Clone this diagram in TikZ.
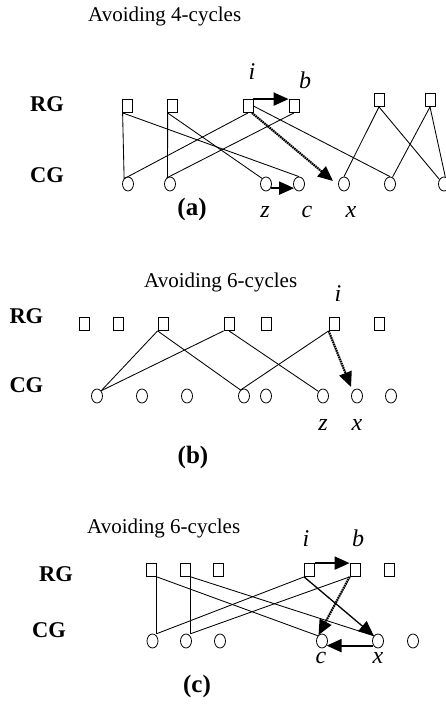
\documentclass[tikz,border=0pt]{standalone}
\usepackage{fontspec}
\setmainfont{Liberation Serif}
\usetikzlibrary{arrows.meta,shapes.geometric}
\begin{document}
\begin{tikzpicture}[x=1pt,y=-1pt,
  sq/.style={draw, line width=0.8pt, minimum width=10pt, minimum height=13pt, inner sep=0pt},
  cir/.style={draw, ellipse, line width=0.8pt, minimum width=11pt, minimum height=14pt, inner sep=0pt},
  edg/.style={line width=0.85pt},
  bigarr/.style={line width=2pt, -{Triangle[length=15pt,width=13pt]}},
  dotarr/.style={line width=2.2pt, dash pattern=on 1.6pt off 0.7pt, -{Triangle[length=15pt,width=13pt]}},
  midarr/.style={line width=1.3pt, -{Triangle[length=15pt,width=13pt]}},
  titletxt/.style={font=\fontsize{21}{24}\selectfont, inner sep=0pt, anchor=base west},
  grptxt/.style={font=\fontsize{22.5}{26}\selectfont\bfseries, inner sep=0pt, anchor=base west},
  vartxt/.style={font=\fontsize{24}{28}\selectfont\itshape, inner sep=0pt, anchor=base},
  captxt/.style={font=\fontsize{25}{29}\selectfont\bfseries, inner sep=0pt, anchor=base}]
\useasboundingbox (0,0) rectangle (446,706);
\fill[white] (0,0) rectangle (446,706);

% ---------------- panel (a) ----------------
\node[titletxt] (ta) at (88,21.7) {Avoiding 4-cycles};
\node[grptxt] (rga) at (30,111.7) {RG};
\node[grptxt] (cga) at (30,182.7) {CG};
\node[sq] (a1) at (127,106) {};
\node[sq] (a2) at (172,106) {};
\node[sq] (a3) at (248,106) {};
\node[sq] (a4) at (294,106) {};
\node[sq] (a5) at (379,100) {};
\node[sq] (a6) at (430,100) {};
\node[cir] (ac1) at (128,184) {};
\node[cir] (ac2) at (170,184) {};
\node[cir] (ac3) at (266,184) {};
\node[cir] (ac4) at (299,184) {};
\node[cir] (ac5) at (344,184) {};
\node[cir] (ac6) at (390,184) {};
\node[cir] (ac7) at (444,184) {};
\coordinate (ad) at (333,181);
\draw[edg] ([xshift=1pt]a1.south west) -- (ac1.125);
\draw[edg] ([xshift=1pt]a1.south west) -- (ac4.north);
\draw[edg] ([xshift=1pt]a2.south west) -- (ac2.110);
\draw[edg] ([xshift=1pt]a2.south west) -- (ac3.125);
\draw[edg] (a3.south) -- (ac1.130);
\draw[edg] (a4.south) -- (ac2.120);
\draw[edg] (a3.east) -- (ac6.north);
\draw[edg] (a5.south) -- (ac5.north);
\draw[edg] (a5.south) -- (ac7.135);
\draw[edg] (a6.south) -- (ac6.70);
\draw[edg] (a6.south) -- (ac7.80);
\draw[dotarr] (a3.-60) -- (ad);
\draw[bigarr] (a3.north east) -- (a4.north west);
\draw[bigarr] (ac3.-40) -- (ac4.-140);
\node[vartxt] (ia) at (252,80) {i};
\node[vartxt] (ba) at (305,89) {b};
\node[captxt] (capa) at (192,215) {(a)};
\node[vartxt] (za) at (265,217) {z};
\node[vartxt] (ca) at (307,217) {c};
\node[vartxt] (xa) at (351,217) {x};

% ---------------- panel (b) ----------------
\node[titletxt] (tb) at (144,287.3) {Avoiding 6-cycles};
\node[vartxt] (ib) at (338,301.7) {i};
\node[grptxt] (rgb) at (9.3,323.3) {RG};
\node[grptxt] (cgb) at (9.3,392.7) {CG};
\foreach \n/\x in {1/84,2/118,3/163,4/229,5/266,6/334,7/379}
  \node[sq] (b\n) at (\x,324) {};
\foreach \n/\x in {1/97,2/142,3/187,4/244,5/266,6/323,7/357,8/391}
  \node[cir] (bc\n) at (\x,396) {};
\coordinate (bd) at (351,387);
\draw[edg] (b3.south west) -- (bc1.north east);
\draw[edg] (b3.south west) -- (bc4.120);
\draw[edg] (b4.south west) -- (bc1.north east);
\draw[edg] (b4.south) -- (bc6.135);
\draw[edg] (b6.south west) -- (bc4.120);
\draw[dotarr] (b6.south west) -- (bd);
\node[vartxt] (zb) at (323,430) {z};
\node[vartxt] (xb) at (357,430) {x};
\node[captxt] (capb) at (193,463) {(b)};

% ---------------- panel (c) ----------------
\node[titletxt] (tc) at (87,533.3) {Avoiding 6-cycles};
\node[vartxt] (ic) at (306,546.7) {i};
\node[vartxt] (bcl) at (358,546.7) {b};
\node[grptxt] (rgc) at (39,581) {RG};
\node[grptxt] (cgc) at (32,637) {CG};
\node[sq] (cs1) at (151.5,570) {};
\node[sq] (cs2) at (185.5,570) {};
\node[sq] (cs3) at (218,570) {};
\node[sq] (ci) at (309.5,570) {};
\node[sq] (cb) at (355,570) {};
\node[sq] (cs6) at (389,570) {};
\node[cir] (cc1) at (152.5,641) {};
\node[cir] (cc2) at (186,641) {};
\node[cir] (cc3) at (220,641) {};
\node[cir] (cc) at (322,641) {};
\node[cir] (cx) at (378,641) {};
\node[cir] (cc6) at (413,641) {};
\draw[edg] (cs1.south east) -- (cs1.south east |- cc1.north);
\draw[edg] (cs1.south east) -- (cc.north west);
\draw[edg] (cs2.south east) -- (cs2.south east |- cc2.north);
\draw[edg] (cs2.south east) -- (cx.north west);
\draw[edg] (ci.south west) -- (cs1.south east |- cc1.north);
\draw[edg] (cb.south west) -- (cs2.south east |- cc2.north);
\draw[dotarr] (cb.south west) -- (cc.120);
\draw[midarr] (ci.south west) -- (cx.north west);
\draw[bigarr] (ci.north east) -- (cb.north west);
\draw[bigarr] (cx.-135) -- (cc.-45);
\node[vartxt] (cl) at (321,663) {c};
\node[vartxt] (xl) at (378,663) {x};
\node[captxt] (capc) at (197,692) {(c)};
\end{tikzpicture}
\end{document}
